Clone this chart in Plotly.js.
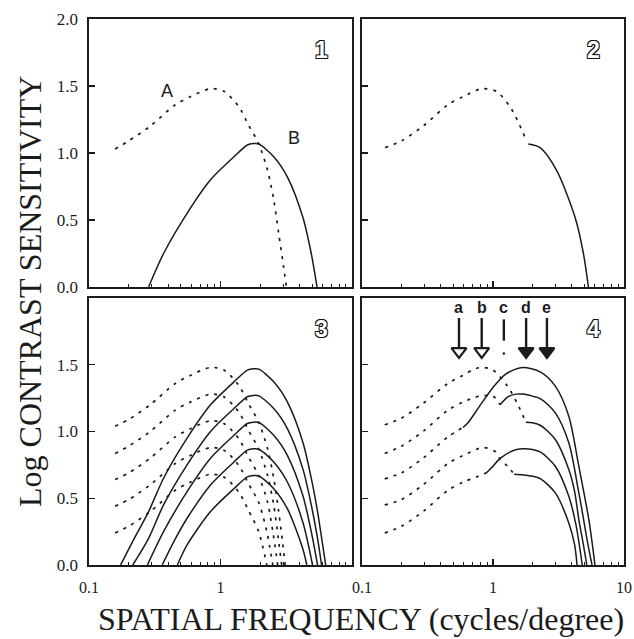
<!DOCTYPE html>
<html>
<head>
<meta charset="utf-8">
<script src="https://cdn.plot.ly/plotly-3.0.1.min.js"></script>
<style>
  html, body { margin: 0; padding: 0; background: #fff; }
  #chart { width: 634px; height: 639px; }
</style>
</head>
<body>
<div id="chart"></div>
<script>
// ---------------- DATA ----------------
// Panel 1: curve A (dotted) and curve B (solid)
const p1A_f = [0.158, 0.2, 0.292, 0.453, 0.59, 0.84, 1.06, 1.38, 1.63, 1.95, 2.28, 2.54, 2.77, 3.02, 3.17];
const p1A_v = [1.03, 1.09, 1.20, 1.36, 1.42, 1.48, 1.46, 1.345, 1.21, 1.07, 0.87, 0.65, 0.40, 0.15, 0.0];
const p1B_f = [0.284, 0.369, 0.557, 0.84, 1.26, 1.60, 1.78, 1.96, 2.55, 3.23, 4.23, 4.9, 5.42];
const p1B_v = [0.0, 0.25, 0.55, 0.80, 0.97, 1.06, 1.07, 1.067, 0.97, 0.82, 0.52, 0.25, 0.0];

// Panel 2: envelope (dotted low-frequency part, solid high-frequency part)
const p2Dot_f = [0.15, 0.2, 0.292, 0.453, 0.59, 0.82, 1.06, 1.38, 1.75];
const p2Dot_v = [1.04, 1.09, 1.20, 1.36, 1.42, 1.48, 1.46, 1.33, 1.12];
const p2Sol_f = [1.86, 2.29, 3.06, 4.23, 4.9, 5.35];
const p2Sol_v = [1.067, 1.04, 0.87, 0.52, 0.25, 0.0];

// Panel 3: five dotted curves (family A) and five solid curves (family B)
const p3D1_f = [0.158, 0.2, 0.292, 0.453, 0.59, 0.84, 1.06, 1.38, 1.63, 1.95, 2.28, 2.54, 2.77, 3.0, 3.1];
const p3D1_v = [1.04, 1.09, 1.20, 1.36, 1.42, 1.48, 1.46, 1.345, 1.21, 1.07, 0.87, 0.65, 0.40, 0.13, 0.0];
const p3D2_f = [0.158, 0.2, 0.292, 0.453, 0.59, 0.84, 1.06, 1.38, 1.63, 1.95, 2.28, 2.54, 2.75, 2.92];
const p3D2_v = [0.835, 0.89, 1.00, 1.16, 1.22, 1.28, 1.26, 1.145, 1.01, 0.87, 0.67, 0.45, 0.20, 0.0];
const p3D3_f = [0.158, 0.2, 0.292, 0.453, 0.59, 0.84, 1.06, 1.38, 1.63, 1.95, 2.28, 2.5, 2.72];
const p3D3_v = [0.64, 0.69, 0.80, 0.96, 1.02, 1.08, 1.06, 0.945, 0.81, 0.67, 0.47, 0.25, 0.0];
const p3D4_f = [0.158, 0.2, 0.292, 0.453, 0.59, 0.84, 1.06, 1.38, 1.63, 1.95, 2.25, 2.5];
const p3D4_v = [0.44, 0.49, 0.60, 0.76, 0.82, 0.88, 0.86, 0.745, 0.61, 0.47, 0.25, 0.0];
const p3D5_f = [0.158, 0.2, 0.292, 0.453, 0.59, 0.84, 1.06, 1.38, 1.63, 1.95, 2.25];
const p3D5_v = [0.24, 0.29, 0.40, 0.56, 0.62, 0.68, 0.66, 0.545, 0.41, 0.25, 0.0];

const p3S1_f = [0.174, 0.224, 0.284, 0.369, 0.557, 0.84, 1.26, 1.60, 1.78, 1.96, 2.55, 3.23, 4.23, 4.9, 5.47, 5.9, 6.31];
const p3S1_v = [0.0, 0.21, 0.40, 0.65, 0.95, 1.20, 1.37, 1.46, 1.47, 1.467, 1.37, 1.22, 0.92, 0.65, 0.40, 0.19, 0.0];
const p3S2_f = [0.215, 0.284, 0.369, 0.557, 0.84, 1.26, 1.60, 1.78, 1.96, 2.55, 3.23, 4.23, 4.9, 5.47, 5.87];
const p3S2_v = [0.0, 0.20, 0.45, 0.75, 1.00, 1.17, 1.26, 1.27, 1.267, 1.17, 1.02, 0.72, 0.45, 0.20, 0.0];
const p3S3_f = [0.278, 0.369, 0.557, 0.84, 1.26, 1.60, 1.78, 1.96, 2.55, 3.23, 4.23, 4.9, 5.47];
const p3S3_v = [0.0, 0.25, 0.55, 0.80, 0.97, 1.06, 1.07, 1.067, 0.97, 0.82, 0.52, 0.25, 0.0];
const p3S4_f = [0.36, 0.45, 0.557, 0.84, 1.26, 1.60, 1.78, 1.96, 2.55, 3.23, 4.23, 5.01];
const p3S4_v = [0.0, 0.19, 0.35, 0.60, 0.77, 0.86, 0.87, 0.867, 0.77, 0.62, 0.32, 0.0];
const p3S5_f = [0.47, 0.557, 0.84, 1.26, 1.60, 1.78, 1.96, 2.55, 3.23, 4.23, 4.53];
const p3S5_v = [0.0, 0.15, 0.40, 0.57, 0.66, 0.67, 0.667, 0.57, 0.42, 0.12, 0.0];

// Panel 4: five curves, each dotted at low frequency then solid
const p4D1_f = [0.149, 0.2, 0.292, 0.453, 0.59, 0.73, 0.84, 1.0, 1.29, 1.55, 1.78];
const p4D1_v = [1.05, 1.10, 1.21, 1.36, 1.42, 1.47, 1.48, 1.46, 1.34, 1.20, 1.07];
const p4S1_f = [1.78, 2.0, 2.31, 2.99, 3.79, 4.2, 4.52, 4.9, 5.2];
const p4S1_v = [1.07, 1.065, 1.045, 0.94, 0.715, 0.55, 0.34, 0.15, 0.0];
const p4D2_f = [0.149, 0.2, 0.292, 0.453, 0.59, 0.79, 1.0, 1.13];
const p4D2_v = [0.835, 0.89, 1.00, 1.16, 1.22, 1.265, 1.265, 1.20];
const p4S2_f = [1.13, 1.3, 1.5, 1.7, 2.0, 2.31, 2.99, 3.79, 4.52, 4.9, 5.2, 5.7];
const p4S2_v = [1.20, 1.26, 1.28, 1.28, 1.265, 1.245, 1.14, 0.915, 0.54, 0.35, 0.20, 0.0];
const p4D3_f = [0.149, 0.2, 0.292, 0.453, 0.59];
const p4D3_v = [0.645, 0.69, 0.80, 0.96, 1.03];
const p4S3_f = [0.59, 0.65, 0.79, 1.0, 1.25, 1.67, 2.31, 2.99, 3.79, 4.52, 5.41, 6.0];
const p4S3_v = [1.03, 1.07, 1.19, 1.33, 1.43, 1.48, 1.445, 1.34, 1.115, 0.74, 0.33, 0.0];
const p4D4_f = [0.149, 0.2, 0.292, 0.453, 0.59, 0.84, 1.04, 1.14, 1.29, 1.45];
const p4D4_v = [0.45, 0.49, 0.60, 0.76, 0.82, 0.88, 0.85, 0.79, 0.74, 0.68];
const p4S4_f = [1.45, 1.7, 2.0, 2.31, 2.99, 3.79, 4.2, 4.38];
const p4S4_v = [0.68, 0.675, 0.665, 0.645, 0.54, 0.315, 0.15, 0.0];
const p4D5_f = [0.149, 0.2, 0.292, 0.453, 0.59, 0.75, 0.89];
const p4D5_v = [0.24, 0.29, 0.40, 0.56, 0.62, 0.66, 0.69];
const p4S5_f = [0.89, 1.0, 1.14, 1.45, 1.67, 2.0, 2.31, 2.99, 3.79, 4.3, 4.8];
const p4S5_v = [0.69, 0.74, 0.80, 0.86, 0.87, 0.865, 0.845, 0.74, 0.515, 0.30, 0.0];

// Panel 4 arrows (frequency markers)
const arrowLabels = ['a', 'b', 'c', 'd', 'e'];
const arrowFreqs  = [0.55, 0.82, 1.21, 1.79, 2.58];
const arrowOpen   = [true, true, null, false, false];   // null = plain tick (no head)

// Curve labels in panel 1
const curveLabels    = ['A', 'B'];
const curveLabelFreq = [0.39, 3.6];
const curveLabelVal  = [1.46, 1.11];

// Panel numbers
const panelNumbers = ['1', '2', '3', '4'];

// Axis tick labels
const yTickVals  = [0, 0.5, 1.0, 1.5, 2.0];
const yTickText1 = ['0.0', '0.5', '1.0', '1.5', '2.0'];
const yTickText3 = ['0.0', '0.5', '1.0', '1.5', ''];
const xTickVals  = [0.1, 1, 10];
const xTickText3 = ['0.1', '1', ''];
const xTickText4 = ['0.1', '1', '10'];
const xMinorVals = [0.2, 0.3, 0.4, 0.5, 0.6, 0.7, 0.8, 0.9, 2, 3, 4, 5, 6, 7, 8, 9];

// ---------------- STYLE ----------------
const INK = '#1b1b1b';
const SERIF = 'Liberation Serif, "Times New Roman", serif';
const SANS = 'Liberation Sans, Arial, sans-serif';
const DOT = '3px,6px';

function curve(f, v, n, dotted) {
  return {
    type: 'scatter', mode: 'lines', x: f, y: v,
    xaxis: n === 1 ? 'x' : 'x' + n, yaxis: n === 1 ? 'y' : 'y' + n,
    line: { color: INK, width: dotted ? 1.7 : 1.5, dash: dotted ? DOT : 'solid', shape: 'spline', smoothing: 0.8 },
    hoverinfo: 'skip', showlegend: false
  };
}

const traces = [
  curve(p1A_f, p1A_v, 1, true), curve(p1B_f, p1B_v, 1, false),
  curve(p2Dot_f, p2Dot_v, 2, true), curve(p2Sol_f, p2Sol_v, 2, false),
  curve(p3D1_f, p3D1_v, 3, true), curve(p3D2_f, p3D2_v, 3, true), curve(p3D3_f, p3D3_v, 3, true),
  curve(p3D4_f, p3D4_v, 3, true), curve(p3D5_f, p3D5_v, 3, true),
  curve(p3S1_f, p3S1_v, 3, false), curve(p3S2_f, p3S2_v, 3, false), curve(p3S3_f, p3S3_v, 3, false),
  curve(p3S4_f, p3S4_v, 3, false), curve(p3S5_f, p3S5_v, 3, false),
  curve(p4D1_f, p4D1_v, 4, true), curve(p4S1_f, p4S1_v, 4, false),
  curve(p4D2_f, p4D2_v, 4, true), curve(p4S2_f, p4S2_v, 4, false),
  curve(p4D3_f, p4D3_v, 4, true), curve(p4S3_f, p4S3_v, 4, false),
  curve(p4D4_f, p4D4_v, 4, true), curve(p4S4_f, p4S4_v, 4, false),
  curve(p4D5_f, p4D5_v, 4, true), curve(p4S5_f, p4S5_v, 4, false)
];

// Arrow shafts and heads in panel 4
const shaftX = [], shaftY = [];
const headX = [], headY = [], headSym = [];
const dotX = [], dotY = [];
arrowFreqs.forEach((f, i) => {
  if (arrowOpen[i] === null) {
    shaftX.push(f, f, null); shaftY.push(1.84, 1.68, null);
    dotX.push(f); dotY.push(1.585);
  } else {
    shaftX.push(f, f, null); shaftY.push(1.85, 1.62, null);
    headX.push(f); headY.push(1.6);
    headSym.push(arrowOpen[i] ? 'triangle-down-open' : 'triangle-down');
  }
});
traces.push({
  type: 'scatter', mode: 'lines', x: shaftX, y: shaftY, xaxis: 'x4', yaxis: 'y4',
  line: { color: INK, width: 2.4 }, hoverinfo: 'skip', showlegend: false
});
traces.push({
  type: 'scatter', mode: 'markers', x: headX, y: headY, xaxis: 'x4', yaxis: 'y4',
  marker: { symbol: headSym, size: 13, color: INK, line: { color: INK, width: 2.2 } },
  hoverinfo: 'skip', showlegend: false
});
traces.push({
  type: 'scatter', mode: 'markers', x: dotX, y: dotY, xaxis: 'x4', yaxis: 'y4',
  marker: { symbol: 'circle', size: 2.5, color: INK },
  hoverinfo: 'skip', showlegend: false
});

// ---------------- LAYOUT ----------------
const W = 634, H = 639;
const colL = [89 / W, 352 / W], colR = [362 / W, 624 / W];
const rowT = [1 - 287 / H, 1 - 19 / H], rowB = [1 - 565 / H, 1 - 298 / H];

function xax(domain, anchor, labels) {
  return {
    type: 'log', range: [-1, 1], domain: domain, anchor: anchor,
    showline: true, mirror: true, linecolor: INK, linewidth: 1.6,
    ticks: 'inside', ticklen: 6, tickwidth: 1.3, tickcolor: INK,
    tickvals: xTickVals, ticktext: labels || ['', '', ''],
    showticklabels: !!labels, ticklabelstandoff: 7,
    tickfont: { family: SERIF, size: 16, color: INK },
    minor: { tickvals: xMinorVals, ticks: 'inside', ticklen: 3, tickwidth: 1, tickcolor: INK, showgrid: false },
    showgrid: false, zeroline: false, fixedrange: true
  };
}
function yax(domain, anchor, labels) {
  return {
    range: [0, 2], domain: domain, anchor: anchor,
    showline: true, mirror: true, linecolor: INK, linewidth: 1.6,
    ticks: 'inside', ticklen: 6, tickwidth: 1.3, tickcolor: INK,
    tickvals: yTickVals, ticktext: labels || ['', '', '', '', ''],
    showticklabels: !!labels, ticklabelstandoff: 6,
    tickfont: { family: SERIF, size: 17, color: INK },
    showgrid: false, zeroline: false, fixedrange: true
  };
}

const annotations = [];
// panel numbers
const numAxes = [['x', 'y'], ['x2', 'y2'], ['x3', 'y3'], ['x4', 'y4']];
panelNumbers.forEach((t, i) => {
  annotations.push({
    text: t, xref: numAxes[i][0] + ' domain', yref: numAxes[i][1] + ' domain',
    x: 0.885, y: 0.885, xanchor: 'center', yanchor: 'middle', showarrow: false,
    font: { family: SANS, size: 23, color: '#ffffff', weight: 700,
            shadow: '-1px -1px 0 #111, 1px -1px 0 #111, -1px 1px 0 #111, 1px 1px 0 #111' }
  });
});
// curve labels A, B
curveLabels.forEach((t, i) => {
  annotations.push({
    text: t, xref: 'x', yref: 'y', x: Math.log10(curveLabelFreq[i]), y: curveLabelVal[i],
    showarrow: false, font: { family: SANS, size: 18, color: INK }
  });
});
// arrow letters
arrowLabels.forEach((t, i) => {
  annotations.push({
    text: t, xref: 'x4', yref: 'y4', x: Math.log10(arrowFreqs[i]), y: 1.93,
    showarrow: false, font: { family: SANS, size: 16, color: INK, weight: 600 }
  });
});
// axis titles
annotations.push({
  text: 'Log CONTRAST SENSITIVITY', xref: 'paper', yref: 'paper',
  x: 30 / W, y: 1 - 292 / H, textangle: -90, showarrow: false,
  xanchor: 'center', yanchor: 'middle',
  font: { family: SERIF, size: 32, color: INK }
});
annotations.push({
  text: 'SPATIAL FREQUENCY (cycles/degree)', xref: 'paper', yref: 'paper',
  x: 361 / W, y: 1 - 619 / H, showarrow: false,
  xanchor: 'center', yanchor: 'middle',
  font: { family: SERIF, size: 32, color: INK }
});

const layout = {
  width: W, height: H,
  margin: { l: 0, r: 0, t: 0, b: 0 },
  paper_bgcolor: '#ffffff', plot_bgcolor: '#ffffff',
  showlegend: false,
  xaxis: xax(colL, 'y', null),
  yaxis: yax(rowT, 'x', yTickText1),
  xaxis2: xax(colR, 'y2', null),
  yaxis2: yax(rowT, 'x2', null),
  xaxis3: xax(colL, 'y3', xTickText3),
  yaxis3: yax(rowB, 'x3', yTickText3),
  xaxis4: xax(colR, 'y4', xTickText4),
  yaxis4: yax(rowB, 'x4', null),
  annotations: annotations
};

Plotly.newPlot('chart', traces, layout, { staticPlot: true, displayModeBar: false });
</script>
</body>
</html>
